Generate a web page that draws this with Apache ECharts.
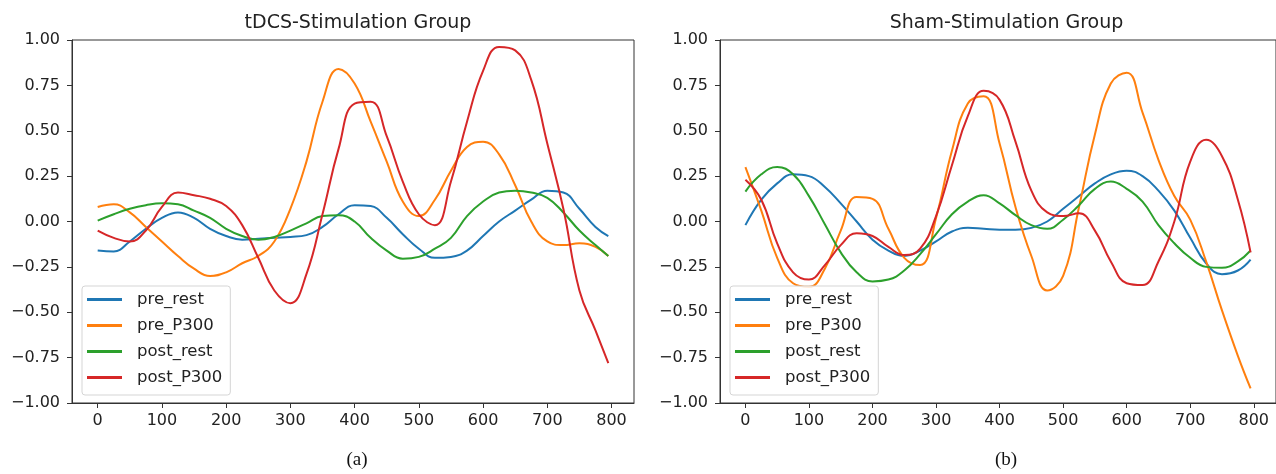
<!DOCTYPE html>
<html>
<head>
<meta charset="utf-8">
<script src="https://cdn.jsdelivr.net/npm/echarts@6/dist/echarts.min.js"></script>
<style>
  html, body { margin: 0; padding: 0; background: #fff; }
  #chart { width: 1276px; height: 474px; }
</style>
</head>
<body>
<div id="chart"></div>
<script>
// sample positions (ms)
var xs = [0, 25, 50, 75, 100, 125, 150, 175, 200, 225, 250, 275, 300, 325, 350, 375, 400,
  425, 450, 475, 500, 525, 550, 575, 600, 625, 650, 675, 700, 725, 750, 775, 795]
var xTicks = [0, 100, 200, 300, 400, 500, 600, 700, 800]
var seriesNames = ['pre_rest', 'pre_P300', 'post_rest', 'post_P300']
var colors = ['#1f77b4', '#ff7f0e', '#2ca02c', '#d62728']

// (a) tDCS-Stimulation Group
var tdcsPreRest = [-0.16, -0.165, -0.11, -0.04, 0.02, 0.05, 0.02, -0.04, -0.08, -0.1, -0.095, -0.09, -0.085,
  -0.075, -0.03, 0.04, 0.09, 0.085, 0.02, -0.07, -0.15, -0.2, -0.195, -0.16, -0.08, 0.0, 0.06, 0.12, 0.17,
  0.16, 0.07, -0.03, -0.08]
var tdcsPreP300 = [0.08, 0.095, 0.05, -0.03, -0.11, -0.19, -0.26, -0.3, -0.28, -0.23, -0.19, -0.11, 0.07,
  0.33, 0.66, 0.84, 0.76, 0.55, 0.33, 0.11, 0.03, 0.12, 0.28, 0.41, 0.44, 0.37, 0.2, 0.0, -0.11,
  -0.13, -0.12, -0.14, -0.19]
var tdcsPostRest = [0.005, 0.04, 0.07, 0.09, 0.1, 0.095, 0.06, 0.02, -0.04, -0.08, -0.1, -0.085, -0.05,
  -0.01, 0.03, 0.035, 0.0, -0.09, -0.16, -0.205, -0.195, -0.15, -0.09, 0.03, 0.11, 0.16, 0.17, 0.16, 0.13,
  0.05, -0.05, -0.13, -0.19]
var tdcsPostP300 = [-0.05, -0.09, -0.11, -0.05, 0.08, 0.16, 0.145, 0.125, 0.085, -0.02, -0.2, -0.38, -0.45,
  -0.29, 0.04, 0.4, 0.65, 0.66, 0.47, 0.22, 0.04, -0.02, 0.22, 0.55, 0.83, 0.962, 0.943, 0.78, 0.43,
  0.07, -0.38, -0.6, -0.78]

// (b) Sham-Stimulation Group
var shamPreRest = [-0.02, 0.12, 0.21, 0.26, 0.25, 0.19, 0.1, 0.0, -0.1, -0.16, -0.19, -0.16, -0.11,
  -0.055, -0.035, -0.04, -0.045, -0.045, -0.035, 0.0, 0.07, 0.14, 0.21, 0.26, 0.28, 0.25, 0.17, 0.06,
  -0.09, -0.23, -0.29, -0.27, -0.21]
var shamPreP300 = [0.3, 0.06, -0.2, -0.34, -0.36, -0.26, -0.05, 0.135, 0.125, -0.04, -0.2, -0.24, 0.02,
  0.39, 0.65, 0.69, 0.43, 0.08, -0.19, -0.38, -0.3, 0.08, 0.48, 0.76, 0.82, 0.6, 0.34, 0.14, 0.01,
  -0.22, -0.49, -0.74, -0.92]
var shamPostRest = [0.165, 0.26, 0.3, 0.26, 0.14, -0.015, -0.17, -0.28, -0.33, -0.32, -0.27, -0.18, -0.07,
  0.04, 0.11, 0.145, 0.1, 0.035, -0.02, -0.04, 0.01, 0.09, 0.18, 0.22, 0.18, 0.11, -0.02, -0.12, -0.2,
  -0.25, -0.255, -0.22, -0.16]
var shamPostP300 = [0.23, 0.12, -0.12, -0.28, -0.32, -0.24, -0.13, -0.065, -0.08, -0.14, -0.185, -0.15, 0.03,
  0.31, 0.58, 0.72, 0.67, 0.44, 0.17, 0.05, 0.03, 0.045, -0.05, -0.22, -0.34, -0.35, -0.22, 0.0, 0.33,
  0.45, 0.36, 0.12, -0.17]

var groups = [
  { title: 'tDCS-Stimulation Group', caption: '(a)', data: [tdcsPreRest, tdcsPreP300, tdcsPostRest, tdcsPostP300] },
  { title: 'Sham-Stimulation Group', caption: '(b)', data: [shamPreRest, shamPreP300, shamPostRest, shamPostP300] }
]

var chart = echarts.init(document.getElementById('chart'), null, { renderer: 'canvas' })

var gridLeft = [72, 720]
var gridWidth = [562, 563]
var fontFamily = 'DejaVu Sans'

function pairs (ys) {
  return xs.map(function (x, i) { return [x, ys[i]] })
}

var option = {
  backgroundColor: '#fff',
  animation: false,
  title: [],
  legend: [],
  grid: [],
  xAxis: [],
  yAxis: [],
  series: []
}

groups.forEach(function (g, k) {
  var center = gridLeft[k] + gridWidth[k] / 2
  option.title.push({
    text: g.title,
    left: center,
    top: 9,
    textAlign: 'center',
    textStyle: { fontFamily: fontFamily, fontSize: 19, fontWeight: 'normal', color: '#222' }
  })
  option.title.push({
    text: g.caption,
    left: k === 0 ? 352 : 1001,
    top: 446,
    textAlign: 'center',
    textStyle: { fontFamily: 'Liberation Serif', fontSize: 19, fontWeight: 'normal', color: '#111' }
  })
  option.grid.push({
    left: gridLeft[k],
    top: 40,
    width: gridWidth[k],
    height: 363,
    show: true,
    borderColor: '#333',
    borderWidth: 1
  })
  option.xAxis.push({
    type: 'value',
    gridIndex: k,
    min: -40,
    max: 835,
    splitLine: { show: false },
    axisLine: { show: true, onZero: false, lineStyle: { color: '#333' } },
    axisTick: { show: true, length: 5, customValues: xTicks, lineStyle: { color: '#333' } },
    axisLabel: {
      customValues: xTicks,
      margin: 10,
      fontFamily: fontFamily,
      fontSize: 16,
      color: '#222'
    }
  })
  option.yAxis.push({
    type: 'value',
    gridIndex: k,
    min: -1,
    max: 1,
    interval: 0.25,
    splitLine: { show: false },
    axisLine: { show: true, onZero: false, lineStyle: { color: '#333' } },
    axisTick: { show: true, length: 5, lineStyle: { color: '#333' } },
    axisLabel: {
      margin: 12,
      fontFamily: fontFamily,
      fontSize: 16,
      color: '#222',
      formatter: function (v) { return v.toFixed(2).replace('-', '\u2212') }
    }
  })
  option.legend.push({
    orient: 'vertical',
    left: k === 0 ? 82 : 730,
    top: 286,
    padding: [5, 8, 9, 5],
    itemGap: 9,
    itemWidth: 35,
    itemHeight: 3,
    icon: 'rect',
    backgroundColor: 'rgba(255,255,255,0.8)',
    borderColor: '#d5d5d5',
    borderWidth: 1,
    borderRadius: 3,
    data: seriesNames.map(function (n) { return { name: n, icon: 'rect' } }),
    textStyle: { fontFamily: fontFamily, fontSize: 16.5, color: '#222', padding: [0, 0, 0, 10] }
  })
  g.data.forEach(function (ys, s) {
    option.series.push({
      name: seriesNames[s],
      type: 'line',
      xAxisIndex: k,
      yAxisIndex: k,
      smooth: 0.45,
      showSymbol: false,
      color: colors[s],
      lineStyle: { width: 2, color: colors[s] },
      data: pairs(ys)
    })
  })
})

chart.setOption(option)
</script>
</body>
</html>
